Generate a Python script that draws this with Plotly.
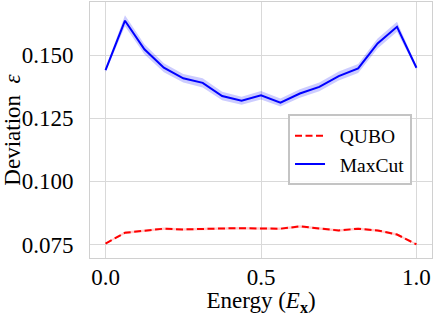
import plotly.graph_objects as go

energy = [0.0, 0.0625, 0.125, 0.1875, 0.25, 0.3125, 0.375, 0.4375, 0.5,
          0.5625, 0.625, 0.6875, 0.75, 0.8125, 0.875, 0.9375, 1.0]
maxcut_mean = [0.1440, 0.1636, 0.1523, 0.1450, 0.1408, 0.1390, 0.1338, 0.1319, 0.1341,
               0.1312, 0.1348, 0.1374, 0.1417, 0.1447, 0.1546, 0.1612, 0.1450]
maxcut_std = [0.0008, 0.0022, 0.0020, 0.0018, 0.0017, 0.0018, 0.0017, 0.0016, 0.0017,
              0.0016, 0.0017, 0.0017, 0.0018, 0.0018, 0.0020, 0.0020, 0.0008]
qubo_mean = [0.0754, 0.0797, 0.0805, 0.0813, 0.0810, 0.0813, 0.0814, 0.0815, 0.0815,
             0.0813, 0.0822, 0.0813, 0.0806, 0.0813, 0.0806, 0.0790, 0.0751]
qubo_std = [0.0003, 0.0005, 0.0005, 0.0005, 0.0005, 0.0005, 0.0005, 0.0005, 0.0005,
            0.0005, 0.0005, 0.0005, 0.0005, 0.0005, 0.0005, 0.0005, 0.0003]

y_ticks = [0.075, 0.100, 0.125, 0.150]
x_ticks = [0.0, 0.5, 1.0]

FONT = "Liberation Serif"
NB = "\u00a0\u00a0"

fig = go.Figure()


def band(x, m, s, color):
    up = [a + b for a, b in zip(m, s)]
    lo = [a - b for a, b in zip(m, s)]
    fig.add_trace(go.Scatter(x=x + x[::-1], y=up + lo[::-1], fill="toself",
                             fillcolor=color, line=dict(width=0), mode="lines",
                             hoverinfo="skip", showlegend=False))


band(energy, qubo_mean, qubo_std, "rgba(255,0,0,0.2)")
band(energy, maxcut_mean, maxcut_std, "rgba(0,0,255,0.2)")

fig.add_trace(go.Scatter(x=energy, y=qubo_mean, mode="lines", name=NB + "QUBO",
                         line=dict(color="red", width=2, dash="7px,3.5px")))
fig.add_trace(go.Scatter(x=energy, y=maxcut_mean, mode="lines", name=NB + "MaxCut",
                         line=dict(color="blue", width=2)))

axis_common = dict(showgrid=True, gridcolor="#d9d9d9", gridwidth=1,
                   showline=True, linecolor="#d0d0d0", linewidth=1, mirror=True,
                   zeroline=False, automargin=False, ticks="",
                   tickfont=dict(family=FONT, size=23, color="black"))

fig.update_xaxes(**axis_common, range=[-0.05, 1.05], tickvals=x_ticks,
                 tickformat=".1f", ticklabelstandoff=-2,
                 title=dict(text="Energy (<i>E</i><sub><b>x</b></sub>)",
                            font=dict(family=FONT, size=23, color="black"), standoff=4))
fig.update_yaxes(**axis_common, range=[0.0697, 0.171], tickvals=y_ticks,
                 tickformat=".3f", ticklabelstandoff=11,
                 title=dict(text="Deviation\u00a0\u00a0<i>ε</i>",
                            font=dict(family=FONT, size=23, color="black"), standoff=0))

fig.update_layout(
    width=436, height=316,
    margin=dict(l=90, r=4, t=2, b=58),
    plot_bgcolor="white", paper_bgcolor="white",
    font=dict(family=FONT, color="black"),
    legend=dict(x=0.579, y=0.422, xanchor="left", yanchor="middle",
                bgcolor="rgba(255,255,255,0.8)", bordercolor="#c4c4c4", borderwidth=2,
                font=dict(family=FONT, size=19.5, color="black"),
                tracegroupgap=0),
)

fig.write_html("out.html", config={"displayModeBar": False},
               post_script="document.body.style.margin='0';document.body.style.overflow='hidden';")
